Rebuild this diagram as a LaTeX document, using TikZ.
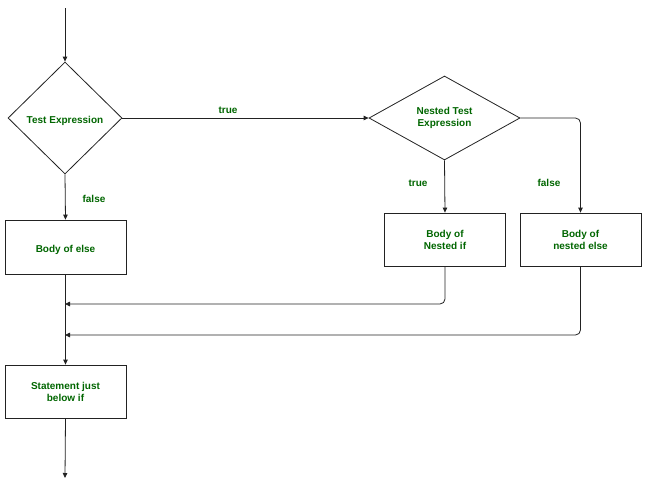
\documentclass[tikz,border=0pt]{standalone}
\usepackage{fontspec}
\setmainfont{Liberation Sans}
\usetikzlibrary{shapes.geometric,arrows.meta}
\definecolor{txtgreen}{HTML}{006600}
\definecolor{linec}{HTML}{222222}
\begin{document}
\begin{tikzpicture}[x=1pt,y=-1pt,
  every node/.style={font=\fontsize{10}{12}\selectfont\bfseries, text=txtgreen},
  box/.style={draw=linec, line width=0.8pt, minimum width=121pt, minimum height=53pt, align=center, inner sep=0pt, execute at begin node={\rule{0pt}{14pt}}},
  dec/.style={diamond, draw=linec, line width=0.8pt, inner sep=0pt, align=center, execute at begin node={\rule{0pt}{14pt}}},
  arr/.style={draw=linec, line width=0.8pt, -{Triangle[length=5pt,width=4.5pt]}},
  lbl/.style={inner sep=0pt}
]
\useasboundingbox (0,0) rectangle (646,480);
\fill[white] (0,0) rectangle (646,480);
\node[dec, minimum width=114pt, minimum height=112pt] (d1) at (65,118) {Test Expression};
\node[box, minimum height=54pt] (else) at (65.5,247) {Body of else};
\node[dec, shape aspect=1.8, minimum width=151pt, minimum height=84pt] (d2) at (444.5,118) {Nested Test\\Expression};
\node[box] (nif) at (445,239.5) {Body of\\Nested if};
\node[box] (nelse) at (580.5,239.5) {Body of\\nested else};
\node[box] (stmt) at (65.5,391.5) {Statement just\\below if};
\coordinate (start) at (65,8);
\coordinate (end) at (65,478);
\coordinate (j1) at (65,304);
\coordinate (j2) at (65,335);
\node[lbl] (ltrue1) at (228,110) {true};
\node[lbl] (lfalse1) at (94,199) {false};
\node[lbl] (ltrue2) at (418,183) {true};
\node[lbl] (lfalse2) at (549,183) {false};
\draw[arr] (start) -- (d1.north);
\draw[arr] (d1.south) -- (else.north);
\draw[arr] (d1.east) -- (d2.west);
\draw[arr] (d2.south) -- (nif.north);
\draw[arr, rounded corners=5pt] (d2.east) -| (nelse.north);
\draw[arr, rounded corners=5pt] (nif.south) |- (j1);
\draw[arr, rounded corners=5pt] (nelse.south) |- (j2);
\draw[arr] (else.south) -- (stmt.north);
\draw[arr] (stmt.south) -- (end);
\end{tikzpicture}
\end{document}
